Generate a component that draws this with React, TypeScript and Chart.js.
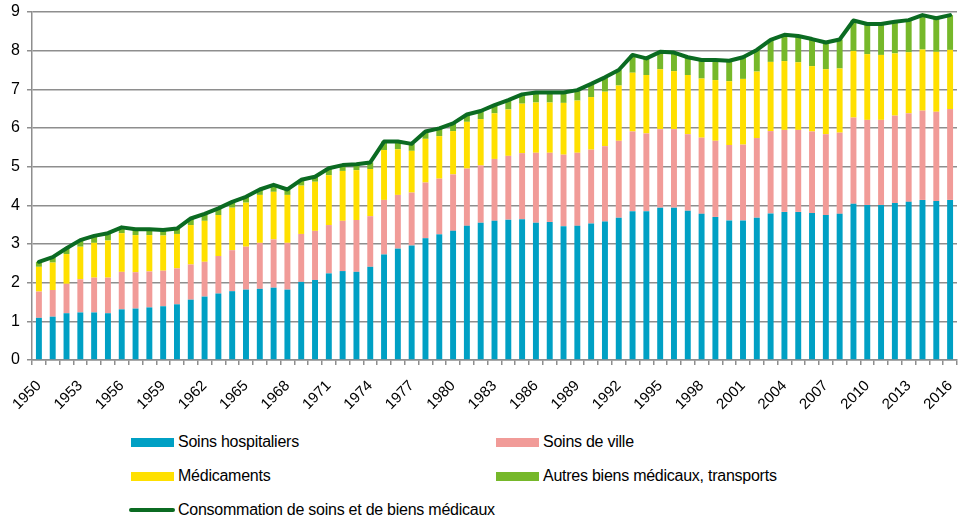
import React, { useEffect, useRef } from 'react';
import { Chart, registerables } from 'chart.js';

Chart.register(...registerables);

const YEARS = [
  '1950', '1951', '1952', '1953', '1954', '1955', '1956', '1957', '1958', '1959',
  '1960', '1961', '1962', '1963', '1964', '1965', '1966', '1967', '1968', '1969',
  '1970', '1971', '1972', '1973', '1974', '1975', '1976', '1977', '1978', '1979',
  '1980', '1981', '1982', '1983', '1984', '1985', '1986', '1987', '1988', '1989',
  '1990', '1991', '1992', '1993', '1994', '1995', '1996', '1997', '1998', '1999',
  '2000', '2001', '2002', '2003', '2004', '2005', '2006', '2007', '2008', '2009',
  '2010', '2011', '2012', '2013', '2014', '2015', '2016',
];

const SOINS_HOSPITALIERS = [
  1.09, 1.12, 1.21, 1.23, 1.23, 1.21, 1.31, 1.33, 1.36, 1.39,
  1.44, 1.56, 1.64, 1.72, 1.78, 1.82, 1.84, 1.87, 1.82, 2.02,
  2.07, 2.24, 2.30, 2.28, 2.41, 2.73, 2.88, 2.96, 3.15, 3.25,
  3.34, 3.47, 3.55, 3.60, 3.63, 3.64, 3.55, 3.57, 3.46, 3.47,
  3.53, 3.58, 3.68, 3.85, 3.85, 3.94, 3.94, 3.86, 3.78, 3.70,
  3.61, 3.61, 3.68, 3.79, 3.83, 3.83, 3.80, 3.75, 3.78, 4.04,
  4.01, 4.01, 4.06, 4.09, 4.14, 4.11, 4.14,
];

const SOINS_DE_VILLE = [
  0.68, 0.69, 0.76, 0.86, 0.90, 0.92, 0.97, 0.94, 0.93, 0.92,
  0.93, 0.91, 0.90, 0.97, 1.06, 1.11, 1.19, 1.25, 1.21, 1.24,
  1.27, 1.25, 1.30, 1.34, 1.31, 1.41, 1.39, 1.37, 1.44, 1.44,
  1.46, 1.48, 1.48, 1.60, 1.65, 1.71, 1.81, 1.79, 1.85, 1.89,
  1.91, 1.95, 1.99, 2.06, 2.01, 2.03, 2.03, 1.98, 1.97, 1.97,
  1.95, 1.96, 2.06, 2.13, 2.12, 2.12, 2.11, 2.09, 2.10, 2.23,
  2.20, 2.20, 2.26, 2.29, 2.31, 2.31, 2.35,
];

const MEDICAMENTS = [
  0.64, 0.71, 0.77, 0.84, 0.90, 0.96, 1.00, 0.96, 0.94, 0.91,
  0.89, 1.02, 1.06, 1.06, 1.10, 1.14, 1.24, 1.23, 1.24, 1.25,
  1.27, 1.29, 1.29, 1.29, 1.22, 1.29, 1.18, 1.08, 1.13, 1.10,
  1.12, 1.21, 1.20, 1.18, 1.20, 1.28, 1.30, 1.30, 1.34, 1.35,
  1.36, 1.41, 1.43, 1.52, 1.51, 1.55, 1.50, 1.53, 1.53, 1.57,
  1.65, 1.70, 1.72, 1.79, 1.78, 1.75, 1.69, 1.68, 1.66, 1.72,
  1.70, 1.68, 1.61, 1.58, 1.58, 1.55, 1.53,
];

const AUTRES_BIENS = [
  0.13, 0.14, 0.15, 0.17, 0.18, 0.19, 0.15, 0.15, 0.15, 0.14,
  0.14, 0.17, 0.18, 0.17, 0.15, 0.15, 0.14, 0.18, 0.14, 0.15,
  0.13, 0.18, 0.15, 0.15, 0.17, 0.22, 0.20, 0.18, 0.19, 0.20,
  0.20, 0.19, 0.21, 0.21, 0.24, 0.24, 0.26, 0.26, 0.27, 0.27,
  0.34, 0.37, 0.40, 0.46, 0.43, 0.45, 0.48, 0.46, 0.48, 0.52,
  0.53, 0.56, 0.56, 0.57, 0.68, 0.68, 0.70, 0.69, 0.75, 0.79,
  0.78, 0.80, 0.82, 0.83, 0.89, 0.87, 0.90,
];

const CSBM_TOTAL = [
  2.54, 2.66, 2.89, 3.10, 3.21, 3.28, 3.43, 3.38, 3.38, 3.36,
  3.40, 3.66, 3.78, 3.92, 4.09, 4.22, 4.41, 4.53, 4.41, 4.66,
  4.74, 4.96, 5.04, 5.06, 5.11, 5.65, 5.65, 5.59, 5.91, 5.99,
  6.12, 6.35, 6.44, 6.59, 6.72, 6.87, 6.92, 6.92, 6.92, 6.98,
  7.14, 7.31, 7.50, 7.89, 7.80, 7.97, 7.95, 7.83, 7.76, 7.76,
  7.74, 7.83, 8.02, 8.28, 8.41, 8.38, 8.30, 8.21, 8.29, 8.78,
  8.69, 8.69, 8.75, 8.79, 8.92, 8.84, 8.92,
];

const Y_TICKS = [0, 1, 2, 3, 4, 5, 6, 7, 8, 9];

const LABEL_HOSP = 'Soins hospitaliers';
const LABEL_VILLE = 'Soins de ville';
const LABEL_MEDIC = 'Médicaments';
const LABEL_AUTRES = 'Autres biens médicaux, transports';
const LABEL_TOTAL = 'Consommation de soins et de biens médicaux';

const C_BLUE = '#00A0C4';
const C_PINK = '#F19B98';
const C_YELLOW = '#FFE000';
const C_GREEN = '#76B82A';
const C_DARK = '#0B6B22';
const C_GRID = '#8E8E8E';

const FONT = "'Liberation Sans', Arial, sans-serif";

export default function App() {
  const ref = useRef<HTMLCanvasElement>(null);

  useEffect(() => {
    const canvas = ref.current;
    if (!canvas) return;
    const chart = new Chart(canvas, {
      type: 'bar',
      data: {
        labels: YEARS,
        datasets: [
          {
            type: 'line',
            label: LABEL_TOTAL,
            data: CSBM_TOTAL,
            borderColor: C_DARK,
            backgroundColor: C_DARK,
            borderWidth: 4,
            pointRadius: 0,
            tension: 0,
            fill: false,
            stack: 'total',
            order: 0,
            borderJoinStyle: 'round',
            borderCapStyle: 'round',
          } as any,
          { label: LABEL_HOSP, data: SOINS_HOSPITALIERS, backgroundColor: C_BLUE, stack: 'csbm', order: 1 },
          { label: LABEL_VILLE, data: SOINS_DE_VILLE, backgroundColor: C_PINK, stack: 'csbm', order: 1 },
          { label: LABEL_MEDIC, data: MEDICAMENTS, backgroundColor: C_YELLOW, stack: 'csbm', order: 1 },
          { label: LABEL_AUTRES, data: AUTRES_BIENS, backgroundColor: C_GREEN, stack: 'csbm', order: 1 },
        ],
      },
      options: {
        responsive: false,
        animation: false,
        layout: { padding: { left: 0, right: 6, top: 12, bottom: 0 } },
        plugins: { legend: { display: false }, tooltip: { enabled: false } },
        datasets: { bar: { categoryPercentage: 1, barPercentage: 0.43 } },
        scales: {
          x: {
            stacked: true,
            offset: true,
            grid: {
              display: true,
              offset: true,
              drawOnChartArea: false,
              drawTicks: true,
              tickLength: 5,
              color: C_GRID,
              lineWidth: 1.5,
            },
            border: { display: true, color: C_GRID, width: 1.5 },
            ticks: {
              autoSkip: false,
              maxRotation: 45,
              minRotation: 45,
              padding: 12,
              color: '#000',
              font: { family: FONT, size: 15 },
              callback: (_v: any, i: number) => (i % 3 === 0 ? YEARS[i] : ''),
            },
            afterFit: (s: any) => {
              s.height = 60;
              s.paddingLeft = 0;
              s.paddingRight = 0;
              s.paddingTop = 0;
              s.paddingBottom = 0;
            },
          },
          y: {
            stacked: true,
            min: Y_TICKS[0],
            max: Y_TICKS[Y_TICKS.length - 1],
            afterBuildTicks: (s: any) => {
              s.ticks = Y_TICKS.map((v) => ({ value: v }));
            },
            grid: { color: C_GRID, lineWidth: 1.5, tickLength: 5, drawTicks: true },
            border: { display: true, color: C_GRID, width: 1.5 },
            ticks: {
              padding: 7,
              color: '#000',
              font: { family: FONT, size: 16 },
            },
            afterFit: (s: any) => {
              s.width = 32;
              s.paddingLeft = 0;
              s.paddingRight = 0;
              s.paddingTop = 0;
              s.paddingBottom = 0;
            },
          },
        },
      } as any,
    });
    return () => chart.destroy();
  }, []);

  const boxItems = [
    { label: LABEL_HOSP, color: C_BLUE, left: 131, cy: 442 },
    { label: LABEL_VILLE, color: C_PINK, left: 496, cy: 442 },
    { label: LABEL_MEDIC, color: C_YELLOW, left: 131, cy: 476 },
    { label: LABEL_AUTRES, color: C_GREEN, left: 496, cy: 476 },
  ];

  const textStyle: React.CSSProperties = { fontSize: 16, letterSpacing: '-0.25px' };

  return (
    <div
      style={{
        position: 'fixed',
        left: 0,
        top: 0,
        width: 963,
        height: 524,
        background: '#fff',
        fontFamily: FONT,
        color: '#000',
        overflow: 'hidden',
      }}
    >
      <canvas ref={ref} width={963} height={420} style={{ display: 'block', width: 963, height: 420 }} />
      {boxItems.map((it) => (
        <div
          key={it.label}
          style={{
            position: 'absolute',
            left: it.left,
            top: it.cy - 12,
            height: 24,
            display: 'flex',
            alignItems: 'center',
            whiteSpace: 'nowrap',
          }}
        >
          <span style={{ display: 'inline-block', width: 43, height: 9, background: it.color, marginRight: 4 }} />
          <span style={textStyle}>{it.label}</span>
        </div>
      ))}
      <div
        style={{
          position: 'absolute',
          left: 129,
          top: 510 - 12,
          height: 24,
          display: 'flex',
          alignItems: 'center',
          whiteSpace: 'nowrap',
        }}
      >
        <span style={{ display: 'inline-block', width: 46, height: 4, borderRadius: 2, background: C_DARK, marginRight: 3 }} />
        <span style={textStyle}>{LABEL_TOTAL}</span>
      </div>
    </div>
  );
}
